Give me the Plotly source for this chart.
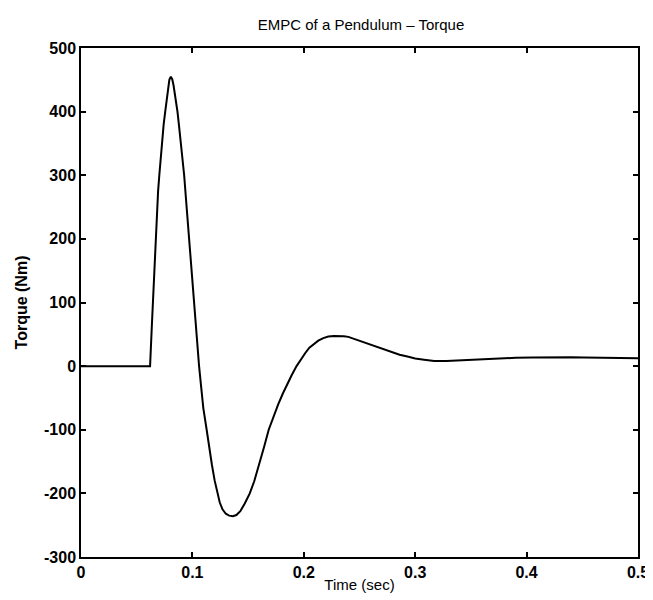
import plotly.graph_objects as go

# Time (sec) and torque (Nm)
time_s = [0.0, 0.062, 0.0635, 0.065, 0.0665, 0.0681, 0.0692, 0.0703, 0.0715, 0.0728,
          0.0742, 0.0756, 0.0769, 0.0781, 0.0793, 0.0806, 0.0819, 0.0831, 0.0848,
          0.0866, 0.0881, 0.0896, 0.0911, 0.0926, 0.0949, 0.0970, 0.0992, 0.1015,
          0.1038, 0.1060, 0.1080, 0.1098, 0.1128, 0.1150, 0.1175, 0.1200, 0.1223,
          0.1245, 0.1270, 0.1300, 0.1330, 0.1363, 0.1395, 0.1430, 0.1470, 0.1515,
          0.1555, 0.1600, 0.1642, 0.1685, 0.1725, 0.1770, 0.1812, 0.1852, 0.1892,
          0.1935, 0.1975, 0.2015, 0.2050, 0.2090, 0.2130, 0.2175, 0.2220, 0.2270,
          0.2324, 0.2360, 0.2400, 0.2450, 0.2500, 0.2570, 0.2650, 0.2700, 0.2750,
          0.2800, 0.2860, 0.2930, 0.3000, 0.3080, 0.3170, 0.3280, 0.3400, 0.3500,
          0.3600, 0.3750, 0.3900, 0.4050, 0.4170, 0.4300, 0.4400, 0.4520, 0.4640,
          0.4800, 0.5000]
torque_nm = [0, 0, 60, 120, 185, 248, 275, 300, 328, 355,
             380, 400, 421, 438, 450, 455, 451, 441, 424,
             400, 376, 350, 325, 300, 248, 201, 148, 91,
             45, 0, -35, -66, -100, -128, -155, -180, -200,
             -214, -225, -232, -235, -236, -234, -228, -216, -200,
             -181, -155, -128, -100, -80, -60, -43, -28, -14,
             0, 11, 21, 29, 35, 40, 44, 46.5, 47.5,
             47.6, 47, 46, 43, 40, 36, 31, 27, 24,
             21, 18, 15, 12, 10, 8, 8, 9, 10,
             11, 12, 13, 13.5, 14, 14, 14, 13.5, 13,
             12.7, 12.5]

x_ticks = [0, 0.1, 0.2, 0.3, 0.4, 0.5]
y_ticks = [-300, -200, -100, 0, 100, 200, 300, 400, 500]

FONT = "Liberation Sans, Arial, sans-serif"

fig = go.Figure()
fig.add_trace(go.Scatter(x=time_s, y=torque_nm, mode="lines",
                         line=dict(color="black", width=2),
                         showlegend=False, hoverinfo="skip"))

axis_common = dict(showline=True, linecolor="black", linewidth=1.5, mirror="ticks",
                   ticks="inside", ticklen=5, tickwidth=1.5, tickcolor="black",
                   showgrid=False, zeroline=False,
                   tickfont=dict(family=FONT, size=16, color="black", weight="bold"))

fig.update_layout(
    width=653, height=600,
    paper_bgcolor="white", plot_bgcolor="white",
    margin=dict(l=73, r=20, t=40, b=51),
    title=dict(text="EMPC of a Pendulum – Torque", x=(73 + 633) / 2 / 653, xanchor="center",
               y=1 - 17 / 600, yanchor="middle",
               font=dict(family=FONT, size=15, color="black")),
    xaxis=dict(range=[0, 0.5], tickvals=x_ticks, ticktext=[str(v) for v in x_ticks],
               title=dict(text="Time (sec)", standoff=0,
                          font=dict(family=FONT, size=15, color="black")),
               **axis_common),
    yaxis=dict(range=[-300, 500], tickvals=y_ticks, ticktext=[str(v) for v in y_ticks],
               title=dict(text="Torque (Nm)", standoff=12,
                          font=dict(family=FONT, size=16, color="black", weight="bold")),
               **axis_common),
)

fig.write_html("out.html")
